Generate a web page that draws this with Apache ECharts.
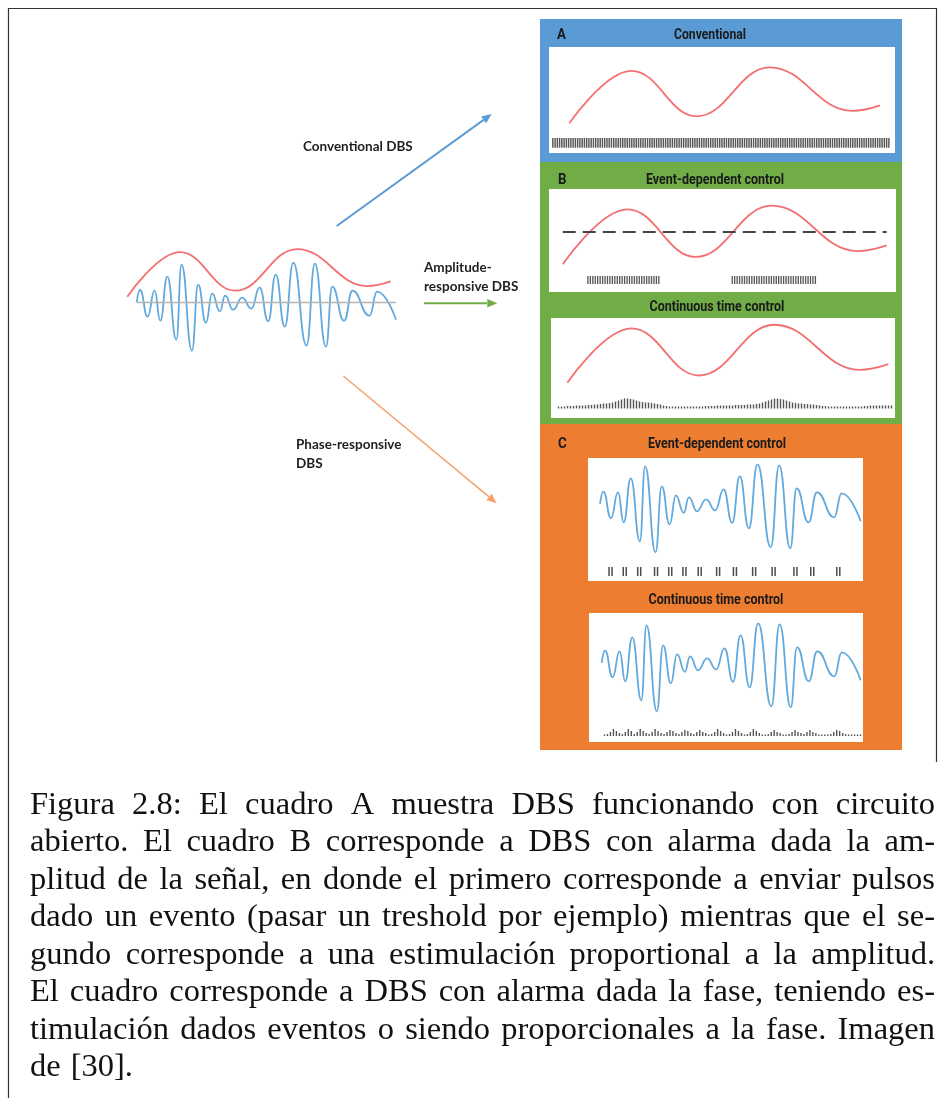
<!DOCTYPE html>
<html><head><meta charset="utf-8">
<script src="https://cdn.jsdelivr.net/npm/echarts@6/dist/echarts.min.js"></script>
<style>html,body{margin:0;padding:0;background:#fff}#c{width:942px;height:1098px}</style>
</head><body><div id="c"></div>
<script>
// ================= DATA =================
// Beta-band amplitude envelope: start, extrema and end (time 0-100 %, amplitude)
const ENVELOPE_T = [0, 20, 41, 64.5, 91, 100];
const ENVELOPE_V = [7, 59.5, 14, 63, 19.5, 25];
// Threshold used by event-dependent amplitude DBS (same units as ENVELOPE_V)
const THRESHOLD = 38;
// Raw LFP oscillation: times (0-100 %) of start, each extremum and end, and values
const SIGNAL_T = [0, 1.3, 4.2, 6.9, 9.1, 11.8, 15.3, 17.3, 21.3, 23.7, 26.7, 29.1, 32.1, 34.1, 37.2, 40.7,
                  44.2, 47.4, 50.7, 53.6, 57.1, 60.4, 65.5, 68.7, 73.0, 75.4, 80.0, 83.2, 89.8, 92.7, 100];
const SIGNAL_V = [0.5, 12.7, -14, 12, -18, 26, -37, 38, -48, 18, -20, 9, -8.5, 7, -7, 5,
                  -6, 15, -18.5, 28, -24, 40, -43, 39, -44, 16, -18, 12, -13, 11, -17];
// Conventional DBS: constant pulse train (1 = pulse)
const CONVENTIONAL_PULSES = [
  1,1,1,1,1,1,1,1,1,1,1,1,1,1,1,1,1,1,1,1,1,1,1,1,1,1,1,1,1,1,
  1,1,1,1,1,1,1,1,1,1,1,1,1,1,1,1,1,1,1,1,1,1,1,1,1,1,1,1,1,1,
  1,1,1,1,1,1,1,1,1,1,1,1,1,1,1,1,1,1,1,1,1,1,1,1,1,1,1,1,1,1,
  1,1,1,1,1,1,1,1,1,1,1,1,1,1,1,1,1,1,1,1,1,1,1,1,1,1,1,1,1,1,
  1,1,1,1,1,1,1,1,1,1,1,1,1,1,1,1,1,1,1,1,1,1,1,1,1,1,1,1,1,1];
// Amplitude event-dependent: bursts while envelope above threshold
const AMP_EVENT_PULSES = [
  0,0,0,0,0,0,0,0,0,0,0,0,0,0,0,
  1,1,1,1,1,1,1,1,1,1,1,1,1,1,1,1,1,1,1,1,1,1,1,1,1,1,1,1,1,1,
  0,0,0,0,0,0,0,0,0,0,0,0,0,0,0,0,0,0,0,0,0,0,0,0,0,0,0,0,0,
  1,1,1,1,1,1,1,1,1,1,1,1,1,1,1,1,1,1,1,1,1,1,1,1,1,1,1,1,1,1,1,1,1,1,1,
  0,0,0,0,0,0,0,0,0,0,0,0,0,0,0,0,0,0,0,0,0,0,0,0,0,0,0,0,0,0];
// Amplitude continuous control: pulse heights
const AMP_CONT_PULSES = [
  2,2,2,2.5,2.5,2.5,3,3,3,3,3.5,3.5,
  4,4,4.5,5,5,5.5,6,7,8,9,
  10,10,9.5,9,8,
  7,6.5,6,6,5.5,5,4.5,4,3,2.5,
  2,2,2,2,2,2,2,2,2,2,2,2,2.5,2.5,2.5,2.5,3,
  3,3,3,3,3,3.5,3.5,3.5,3.5,4,4,4,4.5,5,6,7,8,
  9,10,10,9.5,9,8,
  7,6,5.5,5,5,4.5,4.5,4,4,3.5,3,
  2.5,2.5,2,2,2,2,2,2,2,2,2,2,2,2,
  2.5,2.5,3,3,3,3,3,3,3,3];
// Phase event-dependent: pulse-pair times (0-100 %)
const PHASE_EVENT_T = [4.2, 9.6, 15.1, 21.5, 26.9, 32.3, 38.1, 45.1, 51.5, 58.8, 66.2, 74.5, 80.9, 90.8];
// Phase continuous control: pulse heights
const PHASE_CONT_PULSES = [
  1.5,2,4,7,5,3,2,4,7,5,2,4,7,5,3,2,4,7,5,3,2,4,6,5,3,2,4,6,5,3,
  2,4,6,4,3,1.5,2,4,7,5,3,1.5,2,4,7,5,3,1.5,2,4,7,5,3,1.5,1.5,2,4,6,4,3,
  1.5,1.5,2,4,6,4,3,2,4,6,4,3,1.5,1.5,1.5,1.5,2,4,6,5,3,2,1.5,1.5,1.5,1.5,1.5];

const TITLES = {
  A: 'Conventional', ev: 'Event-dependent control', ct: 'Continuous time control',
  conv: 'Conventional DBS', amp1: 'Amplitude-', amp2: 'responsive DBS', ph1: 'Phase-responsive', ph2: 'DBS'
};
const CAPTION_LINES = [
  'Figura 2.8: El cuadro A muestra DBS funcionando con circuito',
  'abierto. El cuadro B corresponde a DBS con alarma dada la am-',
  'plitud de la señal, en donde el primero corresponde a enviar pulsos',
  'dado un evento (pasar un treshold por ejemplo) mientras que el se-',
  'gundo corresponde a una estimulación proportional a la amplitud.',
  'El cuadro corresponde a DBS con alarma dada la fase, teniendo es-',
  'timulación dados eventos o siendo proporcionales a la fase. Imagen',
  'de [30].'
];

// ================= font availability helper =================
const mctx = document.createElement('canvas').getContext('2d');
function pickFont(cands, fallback) {
  const probe = 'Figura abcdefghij 2.8 DBS';
  for (const f of cands) {
    mctx.font = '40px monospace'; const a = mctx.measureText(probe).width;
    mctx.font = '40px "' + f + '", monospace'; const b = mctx.measureText(probe).width;
    if (Math.abs(a - b) > 0.5) return '"' + f + '"';
  }
  return fallback;
}
const SERIF = pickFont(['Liberation Serif', 'Times New Roman', 'Tinos', 'Nimbus Roman', 'FreeSerif', 'DejaVu Serif'], 'serif');

// ================= STYLE / LAYOUT =================
const RED = '#f36f70', SIG = '#62a9dd', PULSE = '#555';
const grids = [], xAxes = [], yAxes = [], series = [];
function addPanel(gr, xa, ya) {
  grids.push(Object.assign({containLabel: false, outerBoundsMode: 'none', show: false}, gr));
  const gi = grids.length - 1;
  xAxes.push(Object.assign({gridIndex: gi, show: false}, xa));
  yAxes.push(Object.assign({gridIndex: gi, show: false}, ya));
  return gi;
}
const envData = ENVELOPE_T.map((t, i) => [t, ENVELOPE_V[i]]);
function envelopePanel(gr, extra) {
  const gi = addPanel(gr, {type: 'value', min: 0, max: 100}, {type: 'value', min: 0, max: 70});
  series.push(Object.assign({type: 'line', xAxisIndex: gi, yAxisIndex: gi, data: envData, smooth: 0.42,
    smoothMonotone: 'x', showSymbol: false, silent: true, lineStyle: {color: RED, width: 1.8}}, extra || {}));
}
const sigData = SIGNAL_T.map((t, i) => [t, SIGNAL_V[i]]);
function signalPanel(gr, extra) {
  const gi = addPanel(gr, {type: 'value', min: 0, max: 100}, {type: 'value', min: -60, max: 60});
  series.push(Object.assign({type: 'line', xAxisIndex: gi, yAxisIndex: gi, data: sigData, smooth: 0.5,
    smoothMonotone: 'x', showSymbol: false, silent: true, lineStyle: {color: SIG, width: 1.8}}, extra || {}));
}
function barPanel(gr, arr, ymax, bw, axisLine) {
  const gi = addPanel(gr, {type: 'category', data: arr.map((_, i) => i), boundaryGap: true,
      show: !!axisLine, axisLine: {show: !!axisLine, lineStyle: {color: axisLine || '#bbb', width: 1}},
      axisTick: {show: false}, axisLabel: {show: false}, splitLine: {show: false}},
    {type: 'value', min: 0, max: ymax});
  series.push({type: 'bar', xAxisIndex: gi, yAxisIndex: gi, data: arr, barWidth: bw, silent: true,
    itemStyle: {color: PULSE}, animation: false});
}

// Left: raw signal with envelope
envelopePanel({left: 127.3, top: 243.1, width: 263.4, height: 59.5});
signalPanel({left: 136.7, top: 242.7, width: 259.3, height: 120}, {
  markLine: {silent: true, symbol: 'none', label: {show: false}, animation: false,
    lineStyle: {color: '#b5b5b5', width: 1.3, type: 'solid'}, data: [{yAxis: 0}]}
});
// A: conventional
envelopePanel({left: 569.3, top: 60.3, width: 310.7, height: 70});
barPanel({left: 551.7, top: 138, width: 338.3, height: 9.7}, CONVENTIONAL_PULSES, 1, 1.45);
// B1: event-dependent amplitude
envelopePanel({left: 562.7, top: 198.4, width: 324, height: 73.2}, {
  markLine: {silent: true, symbol: 'none', label: {show: false}, animation: false,
    lineStyle: {color: '#454545', width: 2, type: [13, 7]}, data: [{yAxis: THRESHOLD}]}
});
barPanel({left: 550, top: 276, width: 340, height: 8}, AMP_EVENT_PULSES, 1, 1.3, '#b8b8b8');
// B2: continuous amplitude
envelopePanel({left: 567.3, top: 317.5, width: 321, height: 72.5});
barPanel({left: 557, top: 398.5, width: 336, height: 10}, AMP_CONT_PULSES, 10, 1.4);
// C1: event-dependent phase
signalPanel({left: 600, top: 444.3, width: 260.7, height: 120});
(function () {
  const gi = addPanel({left: 599.5, top: 566, width: 263, height: 10},
    {type: 'value', min: 0, max: 100, show: true, axisLine: {show: true, lineStyle: {color: '#a8a8a8', width: 1}},
     axisTick: {show: false}, axisLabel: {show: false}, splitLine: {show: false}},
    {type: 'value', min: 0, max: 1});
  series.push({type: 'scatter', xAxisIndex: gi, yAxisIndex: gi, silent: true, animation: false,
    data: PHASE_EVENT_T.map(t => [t, 0]),
    symbol: 'path://M0,0H2V10H0Z M4,0H6V10H4Z', symbolSize: [4.5, 9], symbolOffset: [0, -4.5],
    itemStyle: {color: '#4d4d4d', opacity: 1}});
})();
// C2: continuous phase
signalPanel({left: 601.7, top: 603.3, width: 259, height: 120});
barPanel({left: 603, top: 728, width: 259, height: 8}, PHASE_CONT_PULSES, 8, 1.4);

// ================= GRAPHICS: frame, panels, labels, arrows =================
const g = [];
const frame = {stroke: '#333', lineWidth: 1.2};
g.push({type: 'line', z: 1, shape: {x1: 8, y1: 8.5, x2: 937, y2: 8.5}, style: frame});
g.push({type: 'line', z: 1, shape: {x1: 8.5, y1: 8, x2: 8.5, y2: 1098}, style: frame});
g.push({type: 'line', z: 1, shape: {x1: 936.5, y1: 8, x2: 936.5, y2: 762}, style: frame});
// coloured panels
g.push({type: 'rect', z: 0, shape: {x: 540, y: 19, width: 362, height: 143}, style: {fill: '#5b9bd5'}});
g.push({type: 'rect', z: 0, shape: {x: 540, y: 162, width: 362, height: 262}, style: {fill: '#70ad47'}});
g.push({type: 'rect', z: 0, shape: {x: 540, y: 424, width: 362, height: 326}, style: {fill: '#ed7d31'}});
// white plot boxes
[[549, 47, 346, 106], [549, 189, 347, 103], [551, 318, 344, 100], [588, 458, 275, 123], [589, 613, 274, 129]]
  .forEach(r => g.push({type: 'rect', z: 1, shape: {x: r[0], y: r[1], width: r[2], height: r[3]}, style: {fill: '#fff'}}));

function txt(text, x, y, font, align, sx, fill) {
  g.push({type: 'text', z: 10, x: x, y: y, scaleX: sx || 1, style: {text: text, font: font, fill: fill || '#1a1a1a',
    textAlign: align || 'left', align: align || 'left', textVerticalAlign: 'middle', verticalAlign: 'middle'}});
}
const PF = 'bold 14.5px Roboto, "Liberation Sans", sans-serif';
txt('A', 557, 35, PF, 'left', 0.92);
txt(TITLES.A, 710, 35, PF, 'center', 0.84);
txt('B', 558, 180, PF, 'left', 0.92);
txt(TITLES.ev, 715, 180, PF, 'center', 0.86);
txt(TITLES.ct, 717, 307.5, PF, 'center', 0.86);
txt('C', 558, 444.5, PF, 'left', 0.92);
txt(TITLES.ev, 717, 444, PF, 'center', 0.86);
txt(TITLES.ct, 716, 600, PF, 'center', 0.86);

const LF = 'bold 13.5px Lato, "Open Sans", sans-serif';
txt(TITLES.conv, 303, 147, LF, 'left', 1, '#1e1e1e');
txt(TITLES.amp1, 424, 268, LF, 'left', 1, '#1e1e1e');
txt(TITLES.amp2, 424, 286.5, LF, 'left', 1, '#1e1e1e');
txt(TITLES.ph1, 296, 445, LF, 'left', 1, '#1e1e1e');
txt(TITLES.ph2, 296, 463.5, LF, 'left', 1, '#1e1e1e');

function arrow(x1, y1, x2, y2, color, w) {
  const L = 10, H = 4.2;
  const dx = x2 - x1, dy = y2 - y1, len = Math.hypot(dx, dy);
  const ux = dx / len, uy = dy / len, nx = -uy, ny = ux;
  const bx = x2 - ux * L, by = y2 - uy * L;
  g.push({type: 'line', z: 5, shape: {x1: x1, y1: y1, x2: bx, y2: by}, style: {stroke: color, lineWidth: w}});
  g.push({type: 'polygon', z: 5, shape: {points: [[x2, y2], [bx + nx * H, by + ny * H], [bx - nx * H, by - ny * H]]},
    style: {fill: color}});
}
arrow(336.7, 226, 491.7, 114, '#5b9bd5', 1.9);
arrow(424, 303.3, 497.3, 303.3, '#70ad47', 1.9);
arrow(343.3, 376, 496.7, 503.3, '#f3a26c', 1.5);

// caption, justified word by word
(function () {
  const FS = 32.5, FONT = FS + 'px ' + SERIF + ', serif';
  mctx.font = FONT;
  const X0 = 30, W = 905;
  CAPTION_LINES.forEach((line, li) => {
    const words = line.split(' ');
    const raw = words.map(w => mctx.measureText(w).width);
    const sum = raw.reduce((a, b) => a + b, 0);
    let s = 1.0, gap;
    if (li === CAPTION_LINES.length - 1) gap = 10;
    else {
      gap = (W - sum * s) / (words.length - 1);
      if (gap < 7) { s = (W - 7 * (words.length - 1)) / sum; gap = 7; }
    }
    let x = X0;
    words.forEach((w, i) => {
      g.push({type: 'text', z: 10, x: x, y: 805.5 + 37.45 * li, scaleX: s,
        style: {text: w, font: FONT, fill: '#111', textAlign: 'left', align: 'left',
          textVerticalAlign: 'middle', verticalAlign: 'middle'}});
      x += raw[i] * s + gap;
    });
  });
})();

const chart = echarts.init(document.getElementById('c'), null, {renderer: 'canvas', width: 942, height: 1098});
chart.setOption({
  animation: false,
  backgroundColor: '#fff',
  grid: grids, xAxis: xAxes, yAxis: yAxes, series: series,
  graphic: {elements: g}
});
</script>
</body></html>
